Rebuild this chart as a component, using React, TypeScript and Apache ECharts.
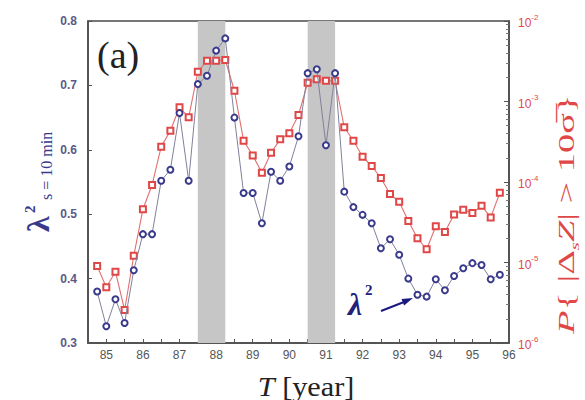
import React, { useEffect, useRef } from "react";
import * as echarts from "echarts";

const years = [
  84.75, 85.0, 85.25, 85.5, 85.75, 86.0, 86.25, 86.5, 86.75, 87.0,
  87.25, 87.5, 87.75, 88.0, 88.25, 88.5, 88.75, 89.0, 89.25, 89.5,
  89.75, 90.0, 90.25, 90.5, 90.75, 91.0, 91.25, 91.5, 91.75, 92.0,
  92.25, 92.5, 92.75, 93.0, 93.25, 93.5, 93.75, 94.0, 94.25, 94.5,
  94.75, 95.0, 95.25, 95.5, 95.75,
];

const lambdaSq = [
  0.38, 0.326, 0.368, 0.331, 0.413, 0.469, 0.469, 0.552, 0.569, 0.657,
  0.552, 0.702, 0.715, 0.754, 0.773, 0.65, 0.533, 0.533, 0.486, 0.566,
  0.552, 0.574, 0.621, 0.719, 0.725, 0.607, 0.719, 0.535, 0.511, 0.499,
  0.486, 0.447, 0.461, 0.437, 0.4, 0.375, 0.372, 0.399, 0.382, 0.404,
  0.416, 0.424, 0.421, 0.399, 0.406,
];

const probLarge = [
  9.06e-6, 4.92e-6, 7.69e-6, 2.57e-6, 1.21e-5, 4.58e-5, 9.18e-5, 2.75e-4, 4.34e-4, 8.47e-4,
  6.37e-4, 2.34e-3, 3.21e-3, 3.21e-3, 3.28e-3, 1.36e-3, 3.26e-4, 2.14e-4, 1.3e-4, 2.31e-4,
  3.39e-4, 4.03e-4, 6.79e-4, 1.71e-3, 1.89e-3, 1.81e-3, 1.81e-3, 4.78e-4, 3.26e-4, 2.06e-4,
  1.58e-4, 1.12e-4, 7.08e-5, 5.69e-5, 3.27e-5, 2.0e-5, 1.46e-5, 2.82e-5, 2.4e-5, 3.94e-5,
  4.52e-5, 4.12e-5, 5.06e-5, 3.63e-5, 7.36e-5,
];

const shadedBands = [
  [87.5, 88.25],
  [90.5, 91.25],
];

const leftTicks = { min: 0.3, max: 0.8, step: 0.1 };
const rightTicks = { min: 1e-6, max: 1e-2 };
const xRange = { min: 84.5, max: 96, step: 0.5 };

const BLUE = "#3a3a8c";
const RED = "#e04848";
const SERIF = '"Liberation Serif", "DejaVu Serif", serif';
const SANS = '"Liberation Sans", Arial, sans-serif';

export default function App() {
  const ref = useRef<HTMLDivElement>(null);

  useEffect(() => {
    if (!ref.current) return;
    const chart = echarts.init(ref.current, undefined, { renderer: "svg" });

    const option: any = {
      animation: false,
      backgroundColor: "#ffffff",
      grid: {
        left: 88,
        right: 76,
        top: 21,
        bottom: 57,
        show: true,
        borderColor: "#4a4a4a",
        borderWidth: 1.5,
        backgroundColor: "transparent",
      },
      xAxis: {
        type: "value",
        min: xRange.min,
        max: xRange.max,
        interval: xRange.step,
        axisLine: { show: true, lineStyle: { color: "#4a4a4a", width: 1.5 } },
        axisTick: { show: true, inside: true, length: 4, lineStyle: { color: "#555" } },
        splitLine: { show: false },
        axisLabel: {
          color: "#555",
          fontSize: 12,
          fontFamily: SANS,
          margin: 6,
          formatter: (v: number) => (Number.isInteger(v) ? String(v) : ""),
        },
      },
      yAxis: [
        {
          type: "value",
          min: leftTicks.min,
          max: leftTicks.max,
          interval: leftTicks.step,
          position: "left",
          axisLine: { show: true, lineStyle: { color: "#4a4a4a", width: 1.5 } },
          axisTick: { show: true, inside: true, length: 4, lineStyle: { color: "#555" } },
          splitLine: { show: false },
          axisLabel: {
            color: "#5a5a88",
            fontSize: 12,
            fontWeight: "bold",
            fontFamily: SANS,
            margin: 11,
            formatter: (v: number) => v.toFixed(1),
          },
        },
        {
          type: "log",
          logBase: 10,
          min: rightTicks.min,
          max: rightTicks.max,
          position: "right",
          axisLine: { show: true, lineStyle: { color: "#4a4a4a", width: 1.5 } },
          axisTick: { show: true, inside: true, length: 5, lineStyle: { color: "#555" } },
          minorTick: { show: true, splitNumber: 9, length: 3, lineStyle: { color: "#777" } },
          splitLine: { show: false },
          axisLabel: {
            margin: 9,
            formatter: (v: number) => `{b|10}{s|${Math.round(Math.log10(v))}}`,
            rich: {
              b: { color: RED, fontSize: 12, fontFamily: SANS, lineHeight: 16, verticalAlign: "bottom" },
              s: { color: RED, fontSize: 8, fontFamily: SANS, lineHeight: 10, verticalAlign: "top" },
            },
          },
        },
      ],
      series: [
        {
          type: "line",
          data: [],
          z: 1,
          silent: true,
          markArea: {
            silent: true,
            itemStyle: { color: "#c6c6c6" },
            data: shadedBands.map((b) => [{ xAxis: b[0] }, { xAxis: b[1] }]),
          },
        },
        {
          type: "line",
          yAxisIndex: 1,
          z: 3,
          data: years.map((y, i) => [y, probLarge[i]]),
          symbol: "emptyRect",
          symbolSize: 6,
          itemStyle: { color: RED, borderWidth: 1.1 },
          lineStyle: { color: "#e07070", width: 1.1 },
        },
        {
          type: "line",
          yAxisIndex: 0,
          z: 4,
          data: years.map((y, i) => [y, lambdaSq[i]]),
          symbol: "emptyCircle",
          symbolSize: 6,
          itemStyle: { color: BLUE, borderWidth: 1.1 },
          lineStyle: { color: "#80809c", width: 1 },
        },
      ],
      graphic: [
        {
          type: "text",
          left: 97,
          top: 36,
          style: { text: "(a)", font: `38px ${SERIF}`, fill: "#222" },
        },
        {
          type: "text",
          x: 306,
          y: 386,
          scaleX: 1.08,
          style: {
            text: "{i|T} [year]",
            align: "center",
            verticalAlign: "middle",
            font: `28px ${SERIF}`,
            fill: "#222",
            rich: { i: { font: `italic 28px ${SERIF}`, fill: "#222" } },
          },
        },
        {
          type: "group",
          x: 38,
          y: 232,
          rotation: Math.PI / 2,
          children: [
            {
              type: "text",
              x: 0,
              y: 0,
              style: { text: "λ", font: `bold 32px ${SERIF}`, fill: BLUE, align: "left", verticalAlign: "middle" },
            },
            {
              type: "text",
              x: 19,
              y: -8,
              style: { text: "2", font: `bold 15px ${SERIF}`, fill: BLUE, align: "left", verticalAlign: "middle" },
            },
            {
              type: "text",
              x: 32,
              y: 8,
              style: { text: "s = 10 min", font: `16px ${SERIF}`, fill: BLUE, align: "left", verticalAlign: "middle" },
            },
          ],
        },
        {
          type: "group",
          x: 566,
          y: 334,
          rotation: Math.PI / 2,
          children: [
            {
              type: "text",
              x: 0,
              y: 0,
              scaleX: 1.6,
              style: {
                text: "{i|P}{ |Δ{sub|s}{i|Z}| > 10σ̅}",
                font: `24px ${SERIF}`,
                fill: RED,
                align: "left",
                verticalAlign: "middle",
                rich: {
                  i: { font: `italic 24px ${SERIF}`, fill: RED },
                  sub: { font: `italic 13px ${SERIF}`, fill: RED, verticalAlign: "bottom", lineHeight: 30 },
                },
              },
            },
          ],
        },
        {
          type: "text",
          x: 348,
          y: 304,
          style: { text: "λ", font: `bold italic 32px ${SERIF}`, fill: "#22227a", align: "left", verticalAlign: "middle" },
        },
        {
          type: "text",
          x: 365,
          y: 290,
          style: { text: "2", font: `bold 15px ${SERIF}`, fill: "#22227a", align: "left", verticalAlign: "middle" },
        },
        {
          type: "line",
          shape: { x1: 381, y1: 311, x2: 404, y2: 302 },
          style: { stroke: "#1a1a80", lineWidth: 2 },
        },
        {
          type: "polygon",
          shape: { points: [[413, 298], [404.1, 305.4], [401.5, 298.9]] },
          style: { fill: "#1a1a80" },
        },
      ],
    };

    chart.setOption(option);
    return () => chart.dispose();
  }, []);

  return (
    <div
      ref={ref}
      style={{ position: "absolute", left: 0, top: 0, width: 585, height: 400, background: "#fff" }}
    />
  );
}
